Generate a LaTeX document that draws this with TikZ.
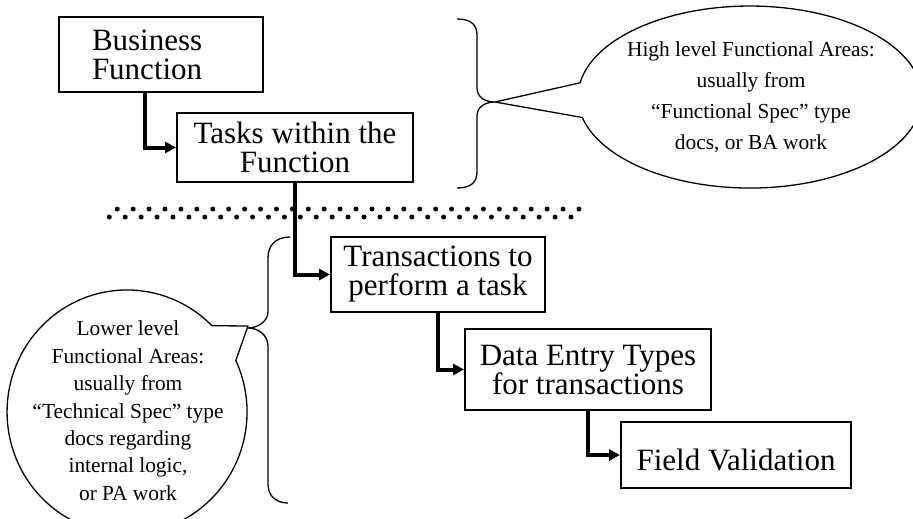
\documentclass[tikz,border=0pt]{standalone}
\usepackage{fontspec}
\setmainfont{Liberation Serif}
\usetikzlibrary{arrows.meta}

\tikzset{
  box/.style={draw, line width=2pt, inner sep=0pt, align=center,
    font=\fontsize{31}{29}\selectfont},
  link/.style={line width=4pt, -{Triangle[length=11pt,width=11pt]}},
  note/.style={inner sep=0pt, align=center},
  brace/.style={line width=1.3pt, line join=round},
}

\begin{document}
\begin{tikzpicture}[x=1pt, y=-1pt]
        \useasboundingbox (0,0) rectangle (913,519);
        \clip (0,0) rectangle (913,519);

        % Draw the boxes
        \node[box, align=left, text width=138pt, inner xsep=33pt, minimum height=75pt] (business) at (161,54.5) {Business\\Function};
        \node[box, minimum width=236pt, minimum height=69pt] (tasks) at (295,147.5) {Tasks within the\\Function};
        \node[box, minimum width=214pt, minimum height=75pt] (trans) at (438,274.5) {Transactions to\\perform a task};
        \node[box, minimum width=246pt, minimum height=81pt] (entry) at (588,369.5) {Data Entry Types\\for transactions};
        \node[box, minimum width=230pt, minimum height=66pt, text height=30pt, text depth=0pt] (field) at (736,455) {Field Validation};

        % Draw the dotted divider
        \foreach \i in {0,1,...,59}
            \fill ({109.3+\i*7.96},{217-8*mod(\i,2)}) circle (2.5pt);

        % Draw the links
        \draw[link] ([xshift=-16pt]business.south) |- (tasks.west);
        \draw[link] (tasks.south) |- (trans.west);
        \draw[link] (trans.south) |- (entry.west);
        \draw[link] (entry.south) |- (field.west);

        % Draw the braces
        \draw[brace] (457,19) .. controls (470,19) and (477,24) .. (477,35) -- (477,88)
            .. controls (477,97) and (485,102) .. (495,102)
            .. controls (485,102) and (477,107) .. (477,116) -- (477,172)
            .. controls (477,183) and (470,188) .. (457,188);
        \draw[brace] (290,237) .. controls (276,237) and (268,245) .. (268,258) -- (268,312)
            .. controls (268,321) and (258,328) .. (248,328)
            .. controls (258,328) and (268,335) .. (268,346) -- (268,484)
            .. controls (268,496) and (276,503) .. (288,503);

        % Draw the callouts
        \coordinate (hiTip) at (495,102);
        \coordinate (loTip) at (248,326);
        \filldraw[brace, fill=white] (hiTip) -- (580.1,82.8)
            arc[start angle=189, end angle=527, x radius=172, y radius=91] -- cycle;
        \filldraw[brace, fill=white] (loTip) -- (211.9,325.7)
            arc[start angle=315, end angle=-25, x radius=120, y radius=122] -- cycle;
        \node[note, font=\fontsize{21.4}{31}\selectfont] (hiNote) at (751,97.7)
            {High level Functional Areas:\\usually from\\“Functional Spec” type\\docs, or BA work};
        \node[note, font=\fontsize{21.4}{27.4}\selectfont] (loNote) at (128,410.7)
            {Lower level\\Functional Areas:\\usually from\\“Technical Spec” type\\docs regarding\\internal logic,\\or PA work};
\end{tikzpicture}
\end{document}
